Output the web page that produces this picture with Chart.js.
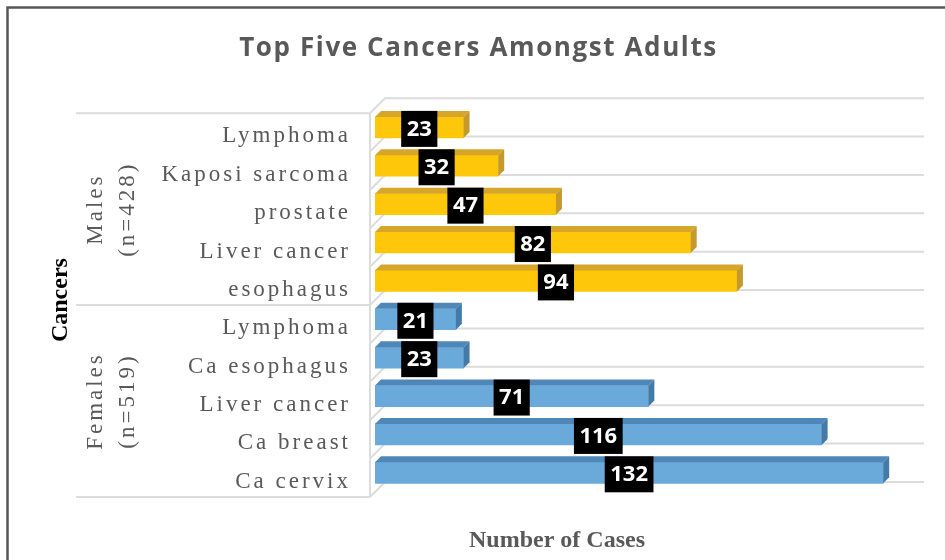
<!DOCTYPE html>
<html>
<head>
<meta charset="utf-8">
<title>Top Five Cancers Amongst Adults</title>
<script src="https://cdn.jsdelivr.net/npm/chart.js@4.4.1/dist/chart.umd.min.js"></script>
<style>
  html, body { margin: 0; padding: 0; background: #fff; }
  #wrap { width: 945px; height: 560px; }
</style>
</head>
<body>
<div id="wrap"><canvas id="cancerChart" width="945" height="560"></canvas></div>
<script>
const maleCancers = ['Lymphoma', 'Kaposi sarcoma', 'prostate', 'Liver cancer', 'esophagus'];
const maleCases = [23, 32, 47, 82, 94];
const femaleCancers = ['Lymphoma', 'Ca esophagus', 'Liver cancer', 'Ca breast', 'Ca cervix'];
const femaleCases = [21, 23, 71, 116, 132];
const groupNames = ['Males', 'Females'];
const groupSizes = ['(n=428)', '(n=519)'];

const labels = maleCancers.concat(femaleCancers);
const cases = maleCases.concat(femaleCases);

// front / top / side colours of the 3d bars
const frontColors = maleCases.map(() => '#FFC709').concat(femaleCases.map(() => '#6AAADB'));
const topColors = maleCases.map(() => '#D6A62A').concat(femaleCases.map(() => '#4F88B8'));
const sideColors = maleCases.map(() => '#C49A2E').concat(femaleCases.map(() => '#437AA8'));

const DEPTH = 6;

// canvas letterSpacing around one draw method of a chart element
function spaced(obj, method, spacing) {
  if (!obj || obj['_sp_' + method]) return;
  const original = obj[method];
  obj[method] = function (...args) {
    const prev = this.ctx.letterSpacing;
    this.ctx.letterSpacing = spacing;
    original.apply(this, args);
    this.ctx.letterSpacing = prev;
  };
  obj['_sp_' + method] = true;
}

const box3d = {
  id: 'box3d',
  beforeDraw(chart) {
    const ctx = chart.ctx;
    ctx.save();
    ctx.fillStyle = '#fff';
    ctx.fillRect(0, 0, chart.width, chart.height);
    ctx.strokeStyle = '#575757';
    ctx.lineWidth = 2.5;
    ctx.beginPath();
    ctx.moveTo(7.5, chart.height);
    ctx.lineTo(7.5, 7.5);
    ctx.lineTo(chart.width, 7.5);
    ctx.stroke();
    ctx.restore();
    spaced(chart.scales.y, 'drawLabels', '3px');
    spaced(chart.titleBlock, 'draw', '1.6px');
  },
  beforeDatasetsDraw(chart) {
    const { ctx, chartArea: a, scales: { y } } = chart;
    const rows = labels.length;
    const step = y.height / rows;
    ctx.save();
    ctx.strokeStyle = '#dcdcdc';
    ctx.lineWidth = 2;
    ctx.beginPath();
    for (let k = 0; k <= rows; k++) {
      const yf = y.top + k * step + 5;
      const yb = y.top + k * step - 10;
      ctx.moveTo(a.left - 5, yf);
      ctx.lineTo(a.left + 10, yb);
      ctx.lineTo(a.right + 10, yb);
    }
    ctx.moveTo(a.left - 5, y.top + 5);
    ctx.lineTo(a.left - 5, y.bottom + 5);
    [0, maleCases.length, rows].forEach(k => {
      const yf = y.top + k * step + 5;
      ctx.moveTo(76, yf);
      ctx.lineTo(a.left - 5, yf);
    });
    ctx.stroke();
    ctx.restore();
  },
  afterDatasetsDraw(chart) {
    const ctx = chart.ctx;
    const bars = chart.getDatasetMeta(0).data;
    ctx.save();
    bars.forEach((bar, i) => {
      const { x, y, base, height } = bar.getProps(['x', 'y', 'base', 'height'], true);
      const t = y - height / 2, b = y + height / 2;
      ctx.fillStyle = topColors[i];
      ctx.beginPath();
      ctx.moveTo(base, t);
      ctx.lineTo(base + DEPTH, t - DEPTH);
      ctx.lineTo(x + DEPTH, t - DEPTH);
      ctx.lineTo(x, t);
      ctx.closePath();
      ctx.fill();
      ctx.fillStyle = sideColors[i];
      ctx.beginPath();
      ctx.moveTo(x, t);
      ctx.lineTo(x + DEPTH, t - DEPTH);
      ctx.lineTo(x + DEPTH, b - DEPTH);
      ctx.lineTo(x, b);
      ctx.closePath();
      ctx.fill();
    });

    // value labels in black boxes
    ctx.font = 'bold 22px "Open Sans"';
    ctx.textAlign = 'center';
    ctx.textBaseline = 'middle';
    bars.forEach((bar, i) => {
      const text = String(cases[i]);
      const w = ctx.measureText(text).width + 11;
      const cx = (bar.x + bar.base) / 2;
      ctx.fillStyle = '#000';
      ctx.fillRect(cx - w / 2, bar.y - 16.5, w, 36);
      ctx.fillStyle = '#fff';
      ctx.fillText(text, cx, bar.y + 2);
    });
    ctx.restore();
  },
  afterDraw(chart) {
    const { ctx, scales: { y } } = chart;
    ctx.save();
    // group labels (multi-level category axis)
    ctx.font = '23px "Liberation Serif"';
    ctx.fillStyle = '#595959';
    ctx.letterSpacing = '3px';
    ctx.textAlign = 'center';
    ctx.textBaseline = 'middle';
    let start = 0;
    groupNames.forEach((name, g) => {
      const n = g === 0 ? maleCases.length : femaleCases.length;
      const cy = (y.getPixelForValue(start) + y.getPixelForValue(start + n - 1)) / 2 + 5;
      [name, groupSizes[g]].forEach((line, j) => {
        ctx.save();
        ctx.translate(96 + j * 32, cy);
        ctx.rotate(-Math.PI / 2);
        ctx.fillText(line, 0, 0);
        ctx.restore();
      });
      start += n;
    });
    // x axis title
    ctx.letterSpacing = '0px';
    ctx.font = 'bold 24px "Liberation Serif"';
    ctx.fillText('Number of Cases', 557, 541);
    ctx.restore();
  }
};

const ctx = document.getElementById('cancerChart').getContext('2d');
const cancerChart = new Chart(ctx, {
  type: 'bar',
  data: {
    labels: labels,
    datasets: [{
      label: 'Number of Cases',
      data: cases,
      backgroundColor: frontColors,
      borderWidth: 0,
      barThickness: 21
    }]
  },
  options: {
    indexAxis: 'y',
    responsive: false,
    animation: false,
    layout: { padding: { left: 43, right: 31, top: 0, bottom: 68 } },
    plugins: {
      legend: { display: false },
      tooltip: { enabled: false },
      title: {
        display: true,
        text: 'Top Five Cancers Amongst Adults',
        color: '#595959',
        font: { family: 'Open Sans', size: 26, weight: 'bold' },
        padding: { top: 33, bottom: 44 }
      }
    },
    scales: {
      x: {
        display: false,
        min: 0,
        max: 140
      },
      y: {
        grid: { display: false, drawTicks: false },
        border: { display: false },
        ticks: {
          color: '#595959',
          font: { family: 'Liberation Serif', size: 23 },
          padding: 24,
          labelOffset: 9
        },
        title: {
          display: true,
          text: 'Cancers',
          color: '#000',
          font: { family: 'Liberation Serif', size: 24, weight: 'bold' },
          padding: { top: 3 }
        },
        afterFit(scale) {
          scale.width = 332;
        }
      }
    }
  },
  plugins: [box3d]
});
</script>
</body>
</html>
